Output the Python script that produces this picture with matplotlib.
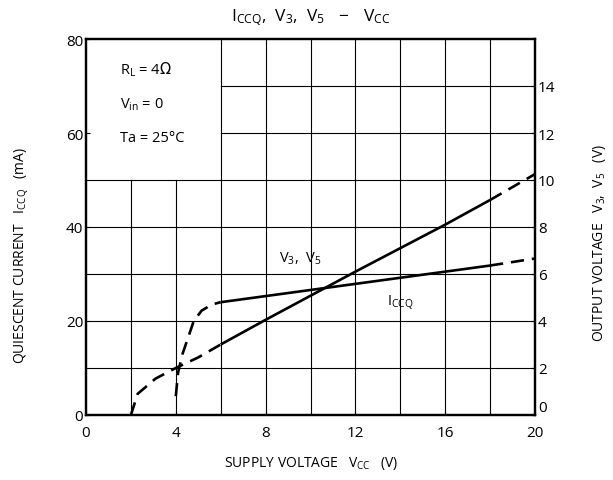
import matplotlib
matplotlib.use('Agg')
from matplotlib import pyplot as plt
import numpy as np

plt.rcParams['font.family'] = ['Open Sans', 'DejaVu Sans']

# ICCQ (mA) vs supply voltage VCC (V)
vcc_iccq = [4.0, 4.1, 4.3, 4.8, 5.15, 5.6, 6.0, 10.0, 14.0, 18.0, 20.0]
iccq = [4.0, 9.0, 13.0, 20.0, 22.2, 23.5, 24.0, 26.6, 29.2, 31.8, 33.3]

# V3, V5 output voltage (V) vs supply voltage VCC (V)
vcc_vout = [2.0, 2.3, 3.1, 4.0, 5.0, 6.0, 8.0, 12.0, 16.0, 18.0, 20.0]
vout = [0.0, 0.9, 1.55, 2.0, 2.45, 3.0, 4.05, 6.1, 8.1, 9.15, 10.25]

# range where the measured curves are drawn solid
solid_from, solid_to = 6.0, 18.0

x_ticks = [0, 4, 8, 12, 16, 20]
left_ticks = [0, 20, 40, 60, 80]
right_ticks = [0, 2, 4, 6, 8, 10, 12, 14]


def plot_curve(ax, x, y):
    """Dashed outside the solid range, solid inside it"""
    x = np.array(x)
    y = np.array(y)
    lo = x <= solid_from
    mid = (x >= solid_from) & (x <= solid_to)
    hi = x >= solid_to
    kw = dict(color='black', lw=1.9, solid_capstyle='butt', dash_capstyle='butt')
    if lo.sum() > 1:
        ax.plot(x[lo], y[lo], dashes=(5, 3), **kw)
    ax.plot(x[mid], y[mid], **kw)
    ax.plot(x[hi], y[hi], dashes=(5, 3), **kw)


fig = plt.figure(figsize=(6.13, 4.81), dpi=100)
ax = fig.add_axes([86 / 613, 65 / 481, 449 / 613, 376 / 481])
ax2 = ax.twinx()

ax.set_xlim(0, 20)
ax.set_ylim(0, 80)
ax2.set_ylim(0, 16)

# grid, left open behind the condition box (x 0-6, 50-80 mA)
for gx in range(2, 20, 2):
    top = 80 if gx >= 6 else 50
    ax.plot([gx, gx], [0, top], color='black', lw=0.8, zorder=1)
for gy in range(10, 80, 10):
    left = 6 if gy > 50 else 0
    ax.plot([left, 20], [gy, gy], color='black', lw=0.8, zorder=1)

plot_curve(ax, vcc_iccq, iccq)
plot_curve(ax2, vcc_vout, vout)

# conditions
ax.text(1.5, 73.6, r'$\mathregular{R_L}$ = 4$\Omega$', fontsize=10.5, va='center')
ax.text(1.5, 66.2, r'$\mathregular{V_{in}}$ = 0', fontsize=10.5, va='center')
ax.text(1.5, 59.1, 'Ta = 25°C', fontsize=10.5, va='center')

# curve labels
ax.text(8.6, 33.5, r'$\mathregular{V_3,\ V_5}$', fontsize=10.5, va='center')
ax.text(13.4, 24.0, r'$\mathregular{I_{CCQ}}$', fontsize=10.5, va='center')

# ticks
ax.set_xticks(x_ticks)
ax.set_yticks(left_ticks)
ax2.set_yticks(right_ticks)
ax.tick_params(axis='y', direction='in', length=3, labelsize=11, pad=2)
ax.tick_params(axis='x', direction='in', length=3, labelsize=11, pad=7)
ax2.tick_params(direction='in', length=3, labelsize=11, pad=2)
for lbl in ax2.get_yticklabels():
    if lbl.get_text() == '0':
        lbl.set_va('bottom')

for a in (ax, ax2):
    for s in a.spines.values():
        s.set_linewidth(1.6)

fig.text(0.5 * (86 + 535) / 613, 1 - 18 / 481,
         r'$\mathregular{I_{CCQ},\ V_3,\ V_5\ \ -\ \ V_{CC}}$',
         ha='center', va='center', fontsize=12.5)
fig.text(311 / 613, 1 - 464 / 481,
         r'SUPPLY VOLTAGE   $\mathregular{V_{CC}}$   (V)',
         ha='center', va='center', fontsize=10)
fig.text(22 / 613, 1 - 255 / 481,
         r'QUIESCENT CURRENT   $\mathregular{I_{CCQ}}$   (mA)',
         ha='center', va='center', rotation=90, fontsize=10)
fig.text(600 / 613, 1 - 243 / 481,
         r'OUTPUT VOLTAGE   $\mathregular{V_3,\ V_5}$   (V)',
         ha='center', va='center', rotation=90, fontsize=10)

fig.savefig('out.png', dpi=100)
